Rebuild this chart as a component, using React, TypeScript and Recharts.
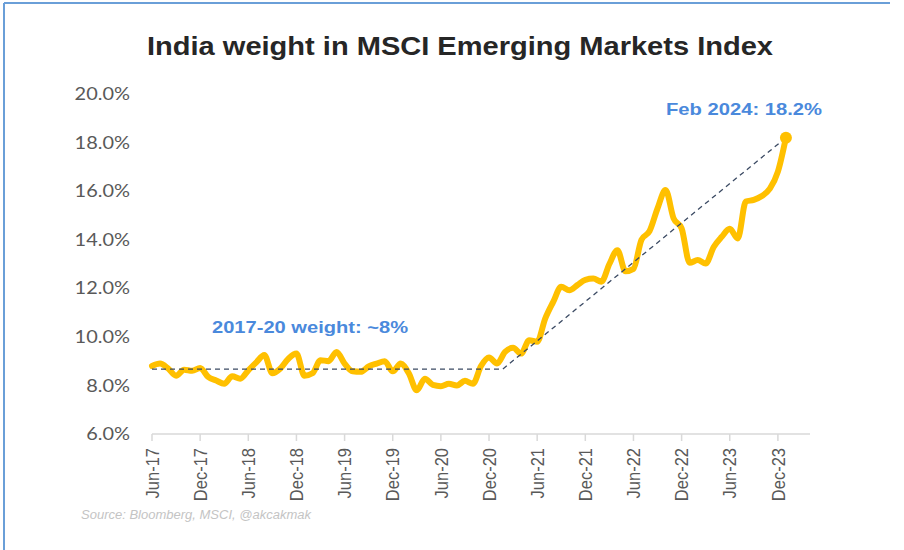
import React from 'react';
import { LineChart, Line, XAxis, YAxis, ReferenceDot } from 'recharts';

// India weight in MSCI EM index, monthly from Jun-2017 (index 0) to early 2024
const weights = [
  8.8, 8.9, 8.7, 8.4, 8.65, 8.6, 8.72, 8.35, 8.2, 8.07,
  8.38, 8.28, 8.62, 8.95, 9.25, 8.5, 8.7, 9.1, 9.31, 8.4,
  8.5, 9.04, 9.0, 9.38, 8.9, 8.58, 8.56, 8.78, 8.9, 9.0,
  8.58, 8.9, 8.5, 7.8, 8.28, 8.02, 7.97, 8.07, 8.0, 8.19,
  8.07, 8.8, 9.15, 8.9, 9.38, 9.55, 9.31, 9.86, 9.8, 10.75,
  11.44, 12.06, 11.92, 12.13, 12.35, 12.4, 12.27, 13.0, 13.57, 12.7,
  12.8, 14.0, 14.35, 15.29, 16.05, 14.88, 14.47, 13.05, 13.16, 13.02,
  13.7, 14.12, 14.45, 14.05, 15.57, 15.64, 15.8, 16.1, 16.8, 18.2,
];

const tickMonths = [0, 6, 12, 18, 24, 30, 36, 42, 48, 54, 60, 66, 72, 78];
const tickLabels = [
  'Jun-17', 'Dec-17', 'Jun-18', 'Dec-18', 'Jun-19', 'Dec-19', 'Jun-20',
  'Dec-20', 'Jun-21', 'Dec-21', 'Jun-22', 'Dec-22', 'Jun-23', 'Dec-23',
];
const yTicks = [6, 8, 10, 12, 14, 16, 18, 20];

// dashed guide: flat 2017-20 level, then straight line to the latest point
const trendMonths = [0, 43.7, 79];
const trendValues = [8.67, 8.67, 18.2];

const data = weights.map((v, i) => ({ m: i, v }));
const trendData = trendMonths.map((m, i) => ({ m, t: trendValues[i] }));
const lastMonth = data.length - 1;
const lastValue = weights[weights.length - 1];

const YTick = (props: any) => {
  const { x, y, payload } = props;
  return (
    <text
      x={x}
      y={y}
      dy="0.35em"
      textAnchor="end"
      fontFamily="Lato"
      fontSize={17.5}
      fill="#595959"
      transform={`translate(${x} 0) scale(1.14 1) translate(${-x} 0)`}
    >
      {Number(payload.value).toFixed(1)}%
    </text>
  );
};

const XTick = (props: any) => {
  const { x, y, payload } = props;
  const idx = tickMonths.indexOf(payload.value);
  return (
    <text
      x={0}
      y={0}
      dy="0.35em"
      textAnchor="end"
      fontFamily="Liberation Sans"
      fontSize={16.5}
      fill="#595959"
      transform={`translate(${x} ${y}) rotate(-90) scale(1 1.15)`}
    >
      {idx >= 0 ? tickLabels[idx] : ''}
    </text>
  );
};

export default function App() {
  return (
    <div style={{ position: 'absolute', left: 0, top: 0, width: 904, height: 550, background: '#fff' }}>
      <LineChart width={904} height={550} data={data} margin={{ top: 94, right: 94, bottom: 36, left: 0 }}>
        <XAxis
          dataKey="m"
          type="number"
          domain={[0, 82]}
          ticks={tickMonths}
          interval={0}
          height={80}
          tickSize={7}
          tickMargin={7}
          axisLine={{ stroke: '#d9d9d9', strokeWidth: 1.5 }}
          tickLine={{ stroke: '#d9d9d9', strokeWidth: 1.5 }}
          tick={<XTick />}
        />
        <YAxis
          type="number"
          domain={[6, 20]}
          ticks={yTicks}
          interval={0}
          width={152}
          axisLine={false}
          tickLine={false}
          tickSize={0}
          tickMargin={22}
          tick={<YTick />}
        />
        <Line
          type="monotone"
          dataKey="v"
          stroke="#FFC000"
          strokeWidth={6}
          dot={false}
          activeDot={false}
          isAnimationActive={false}
          strokeLinecap="round"
          strokeLinejoin="round"
        />
        <Line
          data={trendData}
          type="linear"
          dataKey="t"
          stroke="#3b4a63"
          strokeWidth={1.3}
          strokeDasharray="5 4"
          dot={false}
          activeDot={false}
          isAnimationActive={false}
        />
        <ReferenceDot x={lastMonth} y={lastValue} r={6} fill="#FFC000" stroke="none" />
      </LineChart>
      <svg
        width={904}
        height={550}
        style={{ position: 'absolute', left: 0, top: 0, pointerEvents: 'none' }}
      >
        <line x1={4} y1={3} x2={890} y2={3} stroke="#6a9fd8" strokeWidth={2} />
        <line x1={4} y1={3} x2={4} y2={550} stroke="#6a9fd8" strokeWidth={2} />
        <text
          x={147}
          y={55}
          fontFamily="Liberation Sans"
          fontWeight="bold"
          fontSize={26}
          fill="#262626"
          textLength={626}
          lengthAdjust="spacingAndGlyphs"
        >
          India weight in MSCI Emerging Markets Index
        </text>
        <text
          x={212}
          y={333}
          fontFamily="Liberation Sans"
          fontWeight="bold"
          fontSize={17}
          fill="#4a89dc"
          textLength={196}
          lengthAdjust="spacingAndGlyphs"
        >
          2017-20 weight: ~8%
        </text>
        <text
          x={666}
          y={115}
          fontFamily="Liberation Sans"
          fontWeight="bold"
          fontSize={17}
          fill="#4a89dc"
          textLength={156}
          lengthAdjust="spacingAndGlyphs"
        >
          Feb 2024: 18.2%
        </text>
        <text
          x={81}
          y={519}
          fontFamily="Liberation Sans"
          fontStyle="italic"
          fontSize={12}
          fill="#c4c4c4"
          textLength={230}
          lengthAdjust="spacingAndGlyphs"
        >
          Source: Bloomberg, MSCI, @akcakmak
        </text>
      </svg>
    </div>
  );
}
